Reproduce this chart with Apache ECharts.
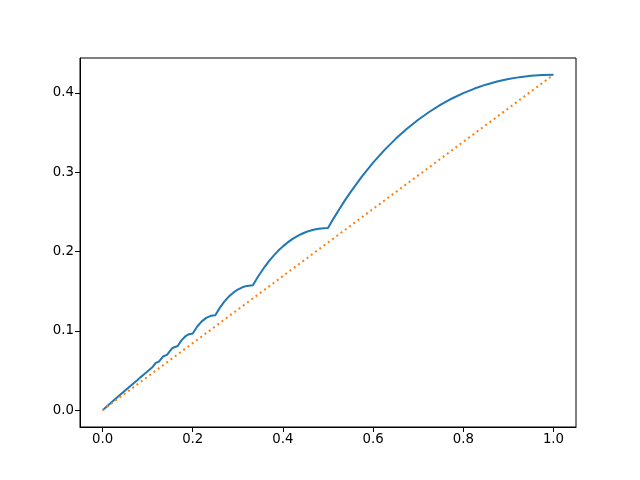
<!DOCTYPE html>
<html>
<head>
<meta charset="utf-8">
<script src="https://cdn.jsdelivr.net/npm/echarts@6/dist/echarts.min.js"></script>
<style>html,body{margin:0;padding:0;background:#fff}#c{width:640px;height:480px}</style>
</head>
<body>
<div id="c"></div>
<script>
// curve points
var curveX = [0, 0.025, 0.05, 0.0769, 0.0833, 0.0909, 0.1, 0.1111, 0.118, 0.125, 0.134, 0.1429, 0.155, 0.1667, 0.175, 0.1833, 0.1917, 0.2, 0.21, 0.22, 0.23, 0.24, 0.25, 0.26, 0.27, 0.28, 0.29, 0.30, 0.31, 0.32, 0.3333, 0.345, 0.36, 0.37, 0.38, 0.39, 0.4, 0.41, 0.42, 0.43, 0.44, 0.45, 0.46, 0.47, 0.48, 0.49, 0.5, 0.5125, 0.525, 0.5375, 0.55, 0.575, 0.6, 0.625, 0.65, 0.675, 0.7, 0.725, 0.75, 0.775, 0.8, 0.825, 0.85, 0.875, 0.9, 0.925, 0.95, 0.975, 1.0];
var curveY = [0, 0.0125, 0.0249, 0.0378, 0.0411, 0.0448, 0.0492, 0.0545, 0.0596, 0.0612, 0.0677, 0.0697, 0.0785, 0.0810, 0.0881, 0.0930, 0.0958, 0.0967, 0.1055, 0.1120, 0.1164, 0.1190, 0.1198, 0.1290, 0.1368, 0.1432, 0.1482, 0.1521, 0.1549, 0.1567, 0.1575, 0.1686, 0.1811, 0.1885, 0.1952, 0.2012, 0.2065, 0.2112, 0.2153, 0.2188, 0.2218, 0.2243, 0.2263, 0.2278, 0.2288, 0.2294, 0.2296, 0.2418, 0.2534, 0.2645, 0.2749, 0.2944, 0.3120, 0.3278, 0.3420, 0.3547, 0.3661, 0.3762, 0.3851, 0.3929, 0.3996, 0.4054, 0.4103, 0.4143, 0.4174, 0.4198, 0.4215, 0.4225, 0.4228];
// reference line endpoints
var refX = [0, 1.0];
var refY = [0, 0.4228];
var xTicks = [0, 0.2, 0.4, 0.6, 0.8, 1.0];
var yTicks = [0, 0.1, 0.2, 0.3, 0.4];

var curve = curveX.map(function (x, i) { return [x, curveY[i]]; });
var ref = refX.map(function (x, i) { return [x, refY[i]]; });

var chart = echarts.init(document.getElementById('c'), null, {renderer: 'canvas'});
var axisCommon = {
  type: 'value',
  splitLine: {show: false},
  axisLine: {show: true, onZero: false, lineStyle: {color: '#000', width: 1}},
  axisTick: {show: true, length: 5, lineStyle: {color: '#000', width: 1}},
  axisLabel: {color: '#000', fontFamily: 'DejaVu Sans', fontSize: 13.3, margin: 6,
    formatter: function (v) { return v.toFixed(1); }}
};
chart.setOption({
  animation: false,
  backgroundColor: '#fff',
  grid: {left: 80, right: 64, top: 58, bottom: 53, show: true, borderColor: '#000', borderWidth: 1, backgroundColor: 'transparent'},
  xAxis: Object.assign({}, axisCommon, {
    min: -0.05, max: 1.05,
    axisTick: Object.assign({}, axisCommon.axisTick, {customValues: xTicks}),
    axisLabel: Object.assign({}, axisCommon.axisLabel, {customValues: xTicks})
  }),
  yAxis: Object.assign({}, axisCommon, {
    min: -0.02114, max: 0.44392,
    axisTick: Object.assign({}, axisCommon.axisTick, {customValues: yTicks}),
    axisLabel: Object.assign({}, axisCommon.axisLabel, {customValues: yTicks})
  }),
  series: [
    {type: 'line', data: curve, showSymbol: false, symbol: 'none', smooth: false,
      lineStyle: {color: '#1f77b4', width: 2}, z: 2},
    {type: 'line', data: ref, showSymbol: false, symbol: 'none',
      lineStyle: {color: '#ff7f0e', width: 2, type: [2, 3.3], cap: 'butt'}, z: 3}
  ]
});
</script>
</body>
</html>
